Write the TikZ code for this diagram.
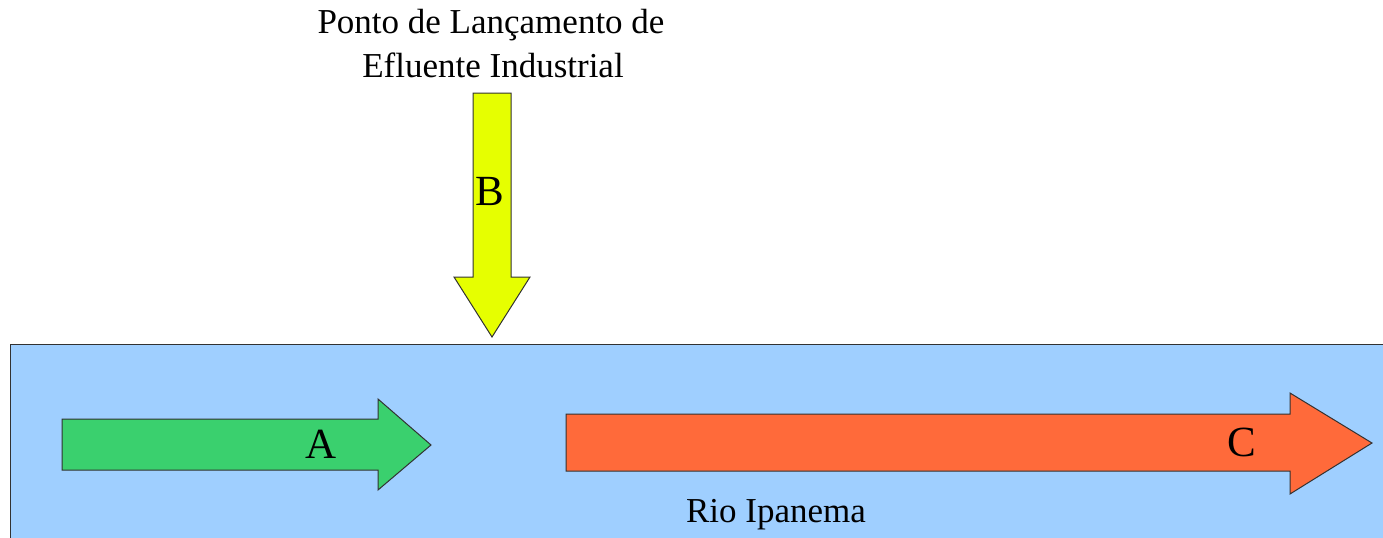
\documentclass[tikz,border=0pt]{standalone}
\usepackage{fontspec}
\setmainfont{Liberation Serif}
\usetikzlibrary{positioning}

\definecolor{rioblue}{RGB}{159,207,255}
\definecolor{arrowgreen}{RGB}{58,208,110}
\definecolor{arrowyellow}{RGB}{230,255,0}
\definecolor{arroworange}{RGB}{255,106,58}
\definecolor{edgegrey}{RGB}{50,50,50}

\tikzset{
	blockarrow/.style={draw=edgegrey, line width=0.5pt, line join=miter},
	plaintext/.style={inner sep=0pt, anchor=base, font=\fontsize{17.5}{21}\selectfont},
	lettertext/.style={inner sep=0pt, anchor=base, font=\fontsize{21.5}{25}\selectfont},
}

\begin{document}
\begin{tikzpicture}[x=0.5pt, y=-0.5pt]
	\useasboundingbox (0,0) rectangle (1383,537);
	
	% river
	\draw[draw=edgegrey, fill=rioblue, line width=0.5pt] (10,344) rectangle (1400,560);
	
	% arrows
	\draw[blockarrow, fill=arrowgreen] (62,419) -- (378,419) -- (378,399) -- (431,445)
		-- (378,490) -- (378,470) -- (62,470) -- cycle;
	\draw[blockarrow, fill=arrowyellow] (473,93) -- (511,93) -- (511,277) -- (530,277)
		-- (492,337) -- (454,277) -- (473,277) -- cycle;
	\draw[blockarrow, fill=arroworange] (566,414) -- (1290,414) -- (1290,393) -- (1372,443)
		-- (1290,494) -- (1290,471) -- (566,471) -- cycle;
	
	% texts
	\node[plaintext] (ponto) at (491,33) {Ponto de Lançamento de};
	\node[plaintext] (efluente) at (493,77) {Efluente Industrial};
	\node[plaintext] (rio) at (776,522) {Rio Ipanema};
	\node[lettertext] (a) at (321,458) {A};
	\node[lettertext] (b) at (490,205) {B};
	\node[lettertext] (c) at (1242,456) {C};
\end{tikzpicture}
\end{document}
